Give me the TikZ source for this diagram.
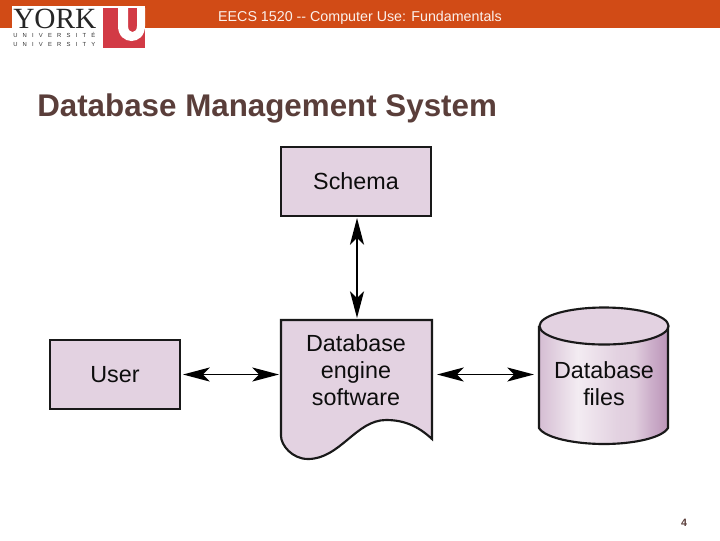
\documentclass[tikz,border=0pt]{standalone}
\usepackage{fontspec}
\setmainfont{Liberation Sans}
\newfontfamily\serifface{Liberation Serif}
\usetikzlibrary{arrows.meta}
\definecolor{banner}{HTML}{D14B16}
\definecolor{boxfill}{HTML}{E3D2E1}
\definecolor{titlecol}{HTML}{5A3E3A}
\definecolor{yorkred}{HTML}{D23A45}
\definecolor{cylA}{HTML}{D5BDD3}
\definecolor{cylB}{HTML}{F3ECF2}
\definecolor{cylC}{HTML}{E0CEDE}
\definecolor{cylD}{HTML}{CDB0CB}
\definecolor{cylE}{HTML}{BB94B8}
\pgfdeclarehorizontalshading{cylshade}{100bp}{
  color(0bp)=(cylA);
  color(25bp)=(cylA);
  color(40bp)=(cylB);
  color(55bp)=(boxfill);
  color(62bp)=(cylC);
  color(68bp)=(cylD);
  color(75bp)=(cylE);
  color(100bp)=(cylE)}
\tikzset{
  outline/.style={draw=black!90,line width=1.6pt,line join=miter},
  flowbox/.style={outline,fill=boxfill,minimum width=112.5pt,minimum height=51.5pt,inner sep=0pt},
  lbl/.style={font=\fontsize{17.5}{20.3}\selectfont,align=center,text=black!95,inner sep=0pt},
  link/.style={draw=black,line width=1.4pt,{Stealth[length=20pt,width=10.5pt,inset=5pt]}-{Stealth[length=20pt,width=10.5pt,inset=5pt]}}
}
\begin{document}
\begin{tikzpicture}[x=0.75pt,y=-0.75pt]
\useasboundingbox (0,0) rectangle (720,540);
\fill[white] (0,0) rectangle (720,540);
\fill[banner] (0,0) rectangle (720,28);
\node[text=white!92!banner,font=\fontsize{10.7}{12}\selectfont,anchor=center] (head) at (360,18) {EECS 1520 -{}- Computer Use: Fundamentals};
% logo
\fill[white] (12,6) rectangle (103,48);
\fill[white] (103,6) rectangle (145,8);
\fill[yorkred] (103,8) rectangle (145,48);
\fill[white] (118,8) -- (128,8) -- (128,26) .. controls (128,34) and (137,34) .. (137,26) -- (137,8) -- (145,8) -- (145,26) .. controls (145,46) and (118,46) .. (118,26) -- cycle;
\node[font=\serifface\fontsize{22}{24}\selectfont,anchor=west,inner sep=0pt,text=black!85] (york) at (13,18.5) {YORK};
\node[font=\fontsize{4.4}{5}\selectfont,anchor=west,inner sep=0pt,text=black!80] (u1) at (13,35) {U\hspace{3.9pt}N\hspace{3.9pt}I\hspace{3.9pt}V\hspace{3.9pt}E\hspace{3.9pt}R\hspace{3.9pt}S\hspace{3.9pt}I\hspace{3.9pt}T\hspace{3.9pt}É};
\node[font=\fontsize{4.4}{5}\selectfont,anchor=west,inner sep=0pt,text=black!80] (u2) at (13,44) {U\hspace{3.9pt}N\hspace{3.9pt}I\hspace{3.9pt}V\hspace{3.9pt}E\hspace{3.9pt}R\hspace{3.9pt}S\hspace{3.9pt}I\hspace{3.9pt}T\hspace{3.9pt}Y};
% title
\node[font=\bfseries\fontsize{23.5}{28}\selectfont,text=titlecol,anchor=west,inner sep=0pt] (title) at (37,108.5) {Database Management System};
\node[font=\bfseries\fontsize{8}{10}\selectfont,text=titlecol,inner sep=0pt] (page) at (684,523) {4};
% boxes
\node[flowbox,lbl] (schema) at (356,181.5) {\raisebox{1pt}{Schema}};
\node[flowbox,lbl,minimum width=97.5pt] (user) at (115,374.5) {User};
% document
\path[outline,fill=boxfill] (281,320) -- (432,320) -- (432,439)
  .. controls (418,426) and (404,420) .. (386,420)
  .. controls (356,420) and (340,459) .. (308,459)
  .. controls (292,459) and (281,445) .. (281,436) -- cycle;
\node[lbl] (engine) at (356,370) {Database\\engine\\software};
\coordinate (engtop) at (357,318);
\coordinate (engl) at (279,374.5);
\coordinate (engr) at (437,374.5);
\coordinate (schemab) at (357,218);
\coordinate (userr) at (183,374.5);
% cylinder
\shade[shading=cylshade] (539,326) -- (539,428) .. controls (545,438) and (575,444) .. (604,444) .. controls (633,444) and (662,438) .. (668,428) -- (668,326) -- cycle;
\draw[outline] (539,326) -- (539,428) .. controls (545,438) and (575,444) .. (604,444) .. controls (633,444) and (662,438) .. (668,428) -- (668,326);
\path[outline,fill=boxfill] (604,326) ellipse [x radius=64.5, y radius=18.5];
\node[lbl] (files) at (604,384) {Database\\files};
\coordinate (cyll) at (534,374.5);
% connectors
\draw[link] (schemab) -- (engtop);
\draw[link] (userr) -- (engl);
\draw[link] (engr) -- (cyll);
\end{tikzpicture}
\end{document}
